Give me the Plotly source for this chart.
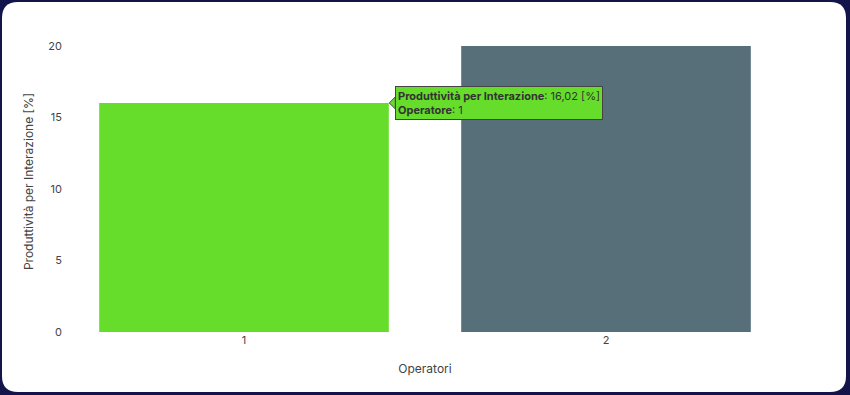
import plotly.graph_objects as go

operatori = ["1", "2"]
produttivita = [16.02, 20.0]
bar_colors = ["#66DD2A", "#566F79"]
y_ticks = [0, 5, 10, 15, 20]

W, H = 850, 395
L, R, T, B = 63, 63, 31, 63
pw, ph = W - L - R, H - T - B


def px(x):
    return (x - L) / pw


def py(y):
    return (H - B - y) / ph


# rounded white card on navy background
x0, x1, y0, y1, r = 2, 846, 2, 392, 16
card = (
    f"M {px(x0 + r)} {py(y0)} L {px(x1 - r)} {py(y0)} "
    f"Q {px(x1)} {py(y0)} {px(x1)} {py(y0 + r)} "
    f"L {px(x1)} {py(y1 - r)} "
    f"Q {px(x1)} {py(y1)} {px(x1 - r)} {py(y1)} "
    f"L {px(x0 + r)} {py(y1)} "
    f"Q {px(x0)} {py(y1)} {px(x0)} {py(y1 - r)} "
    f"L {px(x0)} {py(y0 + r)} "
    f"Q {px(x0)} {py(y0)} {px(x0 + r)} {py(y0)} Z"
)

font_family = "Inter, Lato, sans-serif"
hover_x = 0.4  # right edge of first bar (category index 0 + half bar width)

fig = go.Figure(
    go.Bar(
        x=operatori,
        y=produttivita,
        marker=dict(color=bar_colors, line=dict(width=0)),
        hovertemplate="<b>Produttività per Interazione</b>: %{y:.2f} [%]<br><b>Operatore</b>: %{x}<extra></extra>",
    )
)

fig.update_layout(
    width=W,
    height=H,
    margin=dict(l=L, r=R, t=T, b=B),
    paper_bgcolor="#13144A",
    plot_bgcolor="rgba(0,0,0,0)",
    bargap=0.2,
    font=dict(family=font_family, size=11, color="#444444"),
    showlegend=False,
    shapes=[
        dict(type="path", xref="paper", yref="paper", path=card,
             fillcolor="#FFFFFF", line=dict(width=0), layer="below"),
        dict(type="path", xref="x", yref="y", xsizemode="pixel", ysizemode="pixel",
             xanchor=hover_x, yanchor=produttivita[0],
             path="M 6.5 -6 L 0.5 0 L 6.5 6 Z",
             fillcolor=bar_colors[0], line=dict(color="#444444", width=1), layer="above"),
    ],
    xaxis=dict(
        type="category",
        title=dict(text="Operatori", font=dict(size=12, color="#444444"), standoff=18),
        showgrid=False, zeroline=False, showline=False, ticks="",
        tickfont=dict(size=11, color="#444444"),
    ),
    yaxis=dict(
        title=dict(text="Produttività per Interazione [%]", font=dict(size=12, color="#444444"), standoff=12),
        range=[0, 21.05],
        tickvals=y_ticks,
        showgrid=False, zeroline=False, showline=False, ticks="",
        tickfont=dict(size=11, color="#444444"),
    ),
    annotations=[
        dict(
            x=hover_x, y=produttivita[0], xref="x", yref="y",
            text=f"<b>Produttività per Interazione</b>: {produttivita[0]:.2f}".replace(".", ",") + " [%]<br><b>Operatore</b>: " + operatori[0],
            showarrow=False, xanchor="left", yanchor="middle", xshift=6,
            align="left", bgcolor=bar_colors[0], bordercolor="#444444", borderwidth=1, borderpad=2,
            font=dict(family=font_family, size=11, color="#333333"),
        )
    ],
)

fig.write_html(
    "out.html",
    config={"displayModeBar": False},
    post_script="document.body.style.margin='0';document.body.style.overflow='hidden';",
)
